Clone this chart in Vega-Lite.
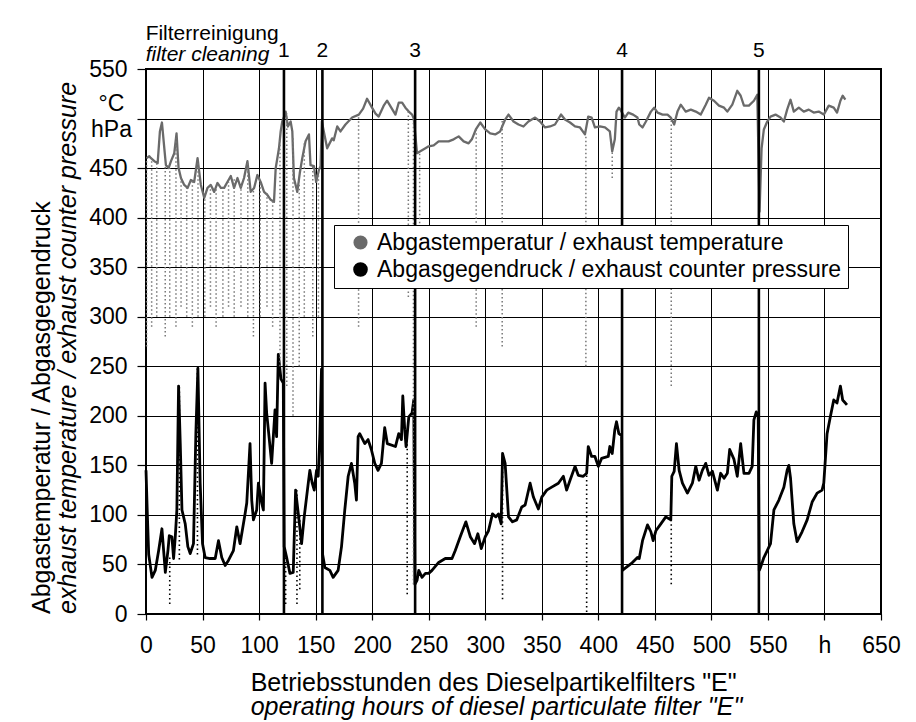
{
  "$schema": "https://vega.github.io/schema/vega-lite/v6.json",
  "background": "white",
  "padding": {"left": 28, "top": 23, "right": 10, "bottom": 0},
  "config": {
    "font": "Liberation Sans",
    "view": {"stroke": "black", "strokeWidth": 2},
    "axis": {"labelFont": "Liberation Sans", "labelColor": "black", "labelFontSize": 23, "gridColor": "black", "gridOpacity": 1, "gridWidth": 1, "tickColor": "black", "domainColor": "black", "labelFlush": false, "labelOverlap": false},
    "title": {"font": "Liberation Sans", "subtitleFont": "Liberation Sans", "color": "black", "subtitleColor": "black", "fontWeight": "normal", "subtitleFontWeight": "normal", "subtitleFontStyle": "italic"}
  },
  "datasets": {
    "series": [
      {"h": 0.5, "v": 460, "s": "T"}, {"h": 2.9, "v": 462, "s": "T"}, {"h": 4.4, "v": 460, "s": "T"}, {"h": 7.4, "v": 457, "s": "T"}, {"h": 10.3, "v": 455, "s": "T"}, {"h": 12.3, "v": 487, "s": "T"}, {"h": 14.1, "v": 496, "s": "T"}, {"h": 16.2, "v": 470, "s": "T"}, {"h": 17.6, "v": 453, "s": "T"}, {"h": 20.0, "v": 450, "s": "T"}, {"h": 22.1, "v": 457, "s": "T"}, {"h": 25.0, "v": 465, "s": "T"}, {"h": 27.0, "v": 485, "s": "T"}, {"h": 28.8, "v": 450, "s": "T"}, {"h": 30.9, "v": 440, "s": "T"}, {"h": 33.8, "v": 433, "s": "T"}, {"h": 36.8, "v": 430, "s": "T"}, {"h": 39.7, "v": 438, "s": "T"}, {"h": 42.6, "v": 436, "s": "T"}, {"h": 45.6, "v": 460, "s": "T"}, {"h": 48.5, "v": 433, "s": "T"}, {"h": 51.5, "v": 420, "s": "T"}, {"h": 54.4, "v": 430, "s": "T"}, {"h": 57.3, "v": 433, "s": "T"}, {"h": 60.3, "v": 426, "s": "T"}, {"h": 63.2, "v": 435, "s": "T"}, {"h": 66.2, "v": 430, "s": "T"}, {"h": 69.1, "v": 430, "s": "T"}, {"h": 72.0, "v": 436, "s": "T"}, {"h": 75.0, "v": 442, "s": "T"}, {"h": 77.9, "v": 430, "s": "T"}, {"h": 80.9, "v": 440, "s": "T"}, {"h": 83.8, "v": 430, "s": "T"}, {"h": 86.7, "v": 440, "s": "T"}, {"h": 89.7, "v": 457, "s": "T"}, {"h": 92.6, "v": 426, "s": "T"}, {"h": 95.6, "v": 430, "s": "T"}, {"h": 98.5, "v": 443, "s": "T"}, {"h": 101.4, "v": 436, "s": "T"}, {"h": 104.4, "v": 426, "s": "T"}, {"h": 107.3, "v": 423, "s": "T"}, {"h": 110.3, "v": 418, "s": "T"}, {"h": 113.2, "v": 416, "s": "T"}, {"h": 114.7, "v": 450, "s": "T"}, {"h": 117.6, "v": 470, "s": "T"}, {"h": 119.1, "v": 487, "s": "T"}, {"h": 120.5, "v": 497, "s": "T"}, {"h": 122.5, "v": 503, "s": "T"}, {"h": 123.5, "v": 507, "s": "T"}, {"h": 125.5, "v": 492, "s": "T"}, {"h": 127.9, "v": 497, "s": "T"}, {"h": 129.4, "v": 487, "s": "T"}, {"h": 130.8, "v": 440, "s": "T"}, {"h": 133.8, "v": 426, "s": "T"}, {"h": 136.0, "v": 445, "s": "T"}, {"h": 138.2, "v": 460, "s": "T"}, {"h": 141.1, "v": 477, "s": "T"}, {"h": 144.1, "v": 484, "s": "T"}, {"h": 145.5, "v": 453, "s": "T"}, {"h": 148.5, "v": 452, "s": "T"}, {"h": 150.5, "v": 436, "s": "T"}, {"h": 152.9, "v": 448, "s": "T"}, {"h": 154.4, "v": 452, "s": "T"}, {"h": 155.5, "v": 497, "s": "T"},
      {"h": 160.2, "v": 470, "s": "T"}, {"h": 164.6, "v": 480, "s": "T"}, {"h": 166.0, "v": 478, "s": "T"}, {"h": 169.1, "v": 492, "s": "T"}, {"h": 172.0, "v": 487, "s": "T"}, {"h": 176.4, "v": 494, "s": "T"}, {"h": 182.3, "v": 501, "s": "T"}, {"h": 188.2, "v": 504, "s": "T"}, {"h": 192.0, "v": 510, "s": "T"}, {"h": 195.5, "v": 520, "s": "T"}, {"h": 199.9, "v": 511, "s": "T"}, {"h": 203.0, "v": 505, "s": "T"}, {"h": 205.8, "v": 502, "s": "T"}, {"h": 210.2, "v": 513, "s": "T"}, {"h": 213.2, "v": 518, "s": "T"},
      {"h": 220.6, "v": 504, "s": "T"}, {"h": 223.5, "v": 516, "s": "T"}, {"h": 226.5, "v": 516, "s": "T"}, {"h": 229.4, "v": 511, "s": "T"}, {"h": 232.4, "v": 507, "s": "T"}, {"h": 235.3, "v": 504, "s": "T"}, {"h": 236.8, "v": 500, "s": "T"},
      {"h": 239.7, "v": 465, "s": "T"}, {"h": 242.6, "v": 467, "s": "T"}, {"h": 247.1, "v": 470, "s": "T"}, {"h": 250.0, "v": 472, "s": "T"}, {"h": 254.4, "v": 473, "s": "T"}, {"h": 258.8, "v": 477, "s": "T"}, {"h": 263.2, "v": 477, "s": "T"}, {"h": 267.6, "v": 477, "s": "T"}, {"h": 272.1, "v": 479, "s": "T"}, {"h": 276.5, "v": 482, "s": "T"}, {"h": 280.9, "v": 477, "s": "T"}, {"h": 285.3, "v": 475, "s": "T"}, {"h": 288.2, "v": 479, "s": "T"}, {"h": 291.7, "v": 489, "s": "T"}, {"h": 295.6, "v": 496, "s": "T"}, {"h": 300.0, "v": 489, "s": "T"}, {"h": 304.4, "v": 485, "s": "T"}, {"h": 308.8, "v": 484, "s": "T"}, {"h": 313.2, "v": 487, "s": "T"}, {"h": 317.6, "v": 499, "s": "T"}, {"h": 320.6, "v": 504, "s": "T"}, {"h": 325.0, "v": 497, "s": "T"}, {"h": 329.4, "v": 494, "s": "T"}, {"h": 333.8, "v": 492, "s": "T"}, {"h": 338.2, "v": 497, "s": "T"}, {"h": 344.1, "v": 501, "s": "T"}, {"h": 348.5, "v": 497, "s": "T"}, {"h": 352.9, "v": 491, "s": "T"}, {"h": 357.3, "v": 492, "s": "T"}, {"h": 361.7, "v": 494, "s": "T"}, {"h": 367.0, "v": 504, "s": "T"}, {"h": 370.5, "v": 499, "s": "T"}, {"h": 375.0, "v": 496, "s": "T"}, {"h": 379.4, "v": 492, "s": "T"}, {"h": 383.8, "v": 491, "s": "T"}, {"h": 388.2, "v": 484, "s": "T"}, {"h": 391.1, "v": 502, "s": "T"}, {"h": 394.1, "v": 501, "s": "T"}, {"h": 397.0, "v": 491, "s": "T"}, {"h": 401.4, "v": 492, "s": "T"}, {"h": 405.9, "v": 491, "s": "T"}, {"h": 410.2, "v": 487, "s": "T"}, {"h": 412.3, "v": 467, "s": "T"}, {"h": 414.6, "v": 479, "s": "T"}, {"h": 416.1, "v": 507, "s": "T"}, {"h": 418.2, "v": 511, "s": "T"}, {"h": 420.0, "v": 508, "s": "T"},
      {"h": 423.5, "v": 501, "s": "T"}, {"h": 426.5, "v": 506, "s": "T"}, {"h": 430.8, "v": 504, "s": "T"}, {"h": 434.6, "v": 501, "s": "T"}, {"h": 436.2, "v": 494, "s": "T"}, {"h": 439.1, "v": 491, "s": "T"}, {"h": 442.1, "v": 497, "s": "T"}, {"h": 446.5, "v": 507, "s": "T"}, {"h": 449.4, "v": 511, "s": "T"}, {"h": 452.4, "v": 506, "s": "T"}, {"h": 456.8, "v": 504, "s": "T"}, {"h": 461.2, "v": 504, "s": "T"}, {"h": 464.1, "v": 501, "s": "T"}, {"h": 467.1, "v": 494, "s": "T"}, {"h": 470.0, "v": 507, "s": "T"}, {"h": 472.9, "v": 514, "s": "T"}, {"h": 477.3, "v": 507, "s": "T"}, {"h": 481.8, "v": 509, "s": "T"}, {"h": 486.2, "v": 507, "s": "T"}, {"h": 490.6, "v": 504, "s": "T"}, {"h": 495.0, "v": 514, "s": "T"}, {"h": 497.9, "v": 521, "s": "T"}, {"h": 502.3, "v": 518, "s": "T"}, {"h": 506.7, "v": 513, "s": "T"}, {"h": 511.2, "v": 511, "s": "T"}, {"h": 514.1, "v": 507, "s": "T"}, {"h": 518.5, "v": 514, "s": "T"}, {"h": 522.9, "v": 528, "s": "T"}, {"h": 525.9, "v": 523, "s": "T"}, {"h": 528.8, "v": 513, "s": "T"}, {"h": 533.2, "v": 513, "s": "T"}, {"h": 537.6, "v": 518, "s": "T"}, {"h": 540.6, "v": 524, "s": "T"},
      {"h": 542.6, "v": 406, "s": "T"}, {"h": 544.4, "v": 470, "s": "T"}, {"h": 546.4, "v": 489, "s": "T"}, {"h": 549.4, "v": 497, "s": "T"}, {"h": 552.3, "v": 502, "s": "T"}, {"h": 556.7, "v": 504, "s": "T"}, {"h": 561.1, "v": 501, "s": "T"}, {"h": 564.1, "v": 497, "s": "T"}, {"h": 567.0, "v": 509, "s": "T"}, {"h": 570.0, "v": 519, "s": "T"}, {"h": 572.9, "v": 507, "s": "T"}, {"h": 577.3, "v": 511, "s": "T"}, {"h": 581.7, "v": 507, "s": "T"}, {"h": 586.1, "v": 509, "s": "T"}, {"h": 590.5, "v": 506, "s": "T"}, {"h": 594.9, "v": 507, "s": "T"}, {"h": 599.4, "v": 504, "s": "T"}, {"h": 603.8, "v": 513, "s": "T"}, {"h": 608.2, "v": 511, "s": "T"}, {"h": 611.1, "v": 506, "s": "T"}, {"h": 614.1, "v": 518, "s": "T"}, {"h": 616.1, "v": 523, "s": "T"}, {"h": 618.5, "v": 519, "s": "T"},
      {"h": 0, "v": 145, "s": "P"}, {"h": 1.2, "v": 100, "s": "P"}, {"h": 2.4, "v": 60, "s": "P"}, {"h": 5.3, "v": 37, "s": "P"}, {"h": 8.2, "v": 44, "s": "P"}, {"h": 11.2, "v": 64, "s": "P"}, {"h": 14.1, "v": 86, "s": "P"}, {"h": 15.6, "v": 64, "s": "P"}, {"h": 17.1, "v": 42, "s": "P"}, {"h": 19.4, "v": 64, "s": "P"}, {"h": 20.6, "v": 79, "s": "P"}, {"h": 22.9, "v": 78, "s": "P"}, {"h": 24.4, "v": 56, "s": "P"}, {"h": 25.9, "v": 78, "s": "P"}, {"h": 27.3, "v": 105, "s": "P"}, {"h": 28.8, "v": 230, "s": "P"}, {"h": 30.3, "v": 172, "s": "P"}, {"h": 31.8, "v": 105, "s": "P"}, {"h": 34.7, "v": 91, "s": "P"}, {"h": 37.0, "v": 68, "s": "P"}, {"h": 39.1, "v": 61, "s": "P"}, {"h": 42.0, "v": 71, "s": "P"}, {"h": 44.1, "v": 182, "s": "P"}, {"h": 45.9, "v": 248, "s": "P"}, {"h": 47.9, "v": 132, "s": "P"}, {"h": 50.0, "v": 71, "s": "P"}, {"h": 52.3, "v": 57, "s": "P"}, {"h": 56.7, "v": 56, "s": "P"}, {"h": 61.2, "v": 56, "s": "P"}, {"h": 64.1, "v": 74, "s": "P"}, {"h": 67.0, "v": 57, "s": "P"}, {"h": 70.0, "v": 49, "s": "P"}, {"h": 72.9, "v": 54, "s": "P"}, {"h": 77.3, "v": 64, "s": "P"}, {"h": 80.3, "v": 88, "s": "P"}, {"h": 83.2, "v": 71, "s": "P"}, {"h": 87.6, "v": 101, "s": "P"}, {"h": 89.1, "v": 112, "s": "P"}, {"h": 92.0, "v": 172, "s": "P"}, {"h": 93.5, "v": 115, "s": "P"}, {"h": 95.0, "v": 95, "s": "P"}, {"h": 97.9, "v": 105, "s": "P"}, {"h": 99.4, "v": 132, "s": "P"}, {"h": 102.3, "v": 112, "s": "P"}, {"h": 103.8, "v": 105, "s": "P"}, {"h": 105.3, "v": 233, "s": "P"}, {"h": 106.7, "v": 203, "s": "P"}, {"h": 108.8, "v": 179, "s": "P"}, {"h": 111.1, "v": 152, "s": "P"}, {"h": 114.1, "v": 206, "s": "P"}, {"h": 115.5, "v": 179, "s": "P"}, {"h": 117.0, "v": 262, "s": "P"}, {"h": 119.4, "v": 237, "s": "P"}, {"h": 121.4, "v": 233, "s": "P"}, {"h": 122.2, "v": 68, "s": "P"}, {"h": 124.4, "v": 57, "s": "P"}, {"h": 127.3, "v": 41, "s": "P"}, {"h": 130.2, "v": 42, "s": "P"}, {"h": 132.3, "v": 125, "s": "P"}, {"h": 134.7, "v": 101, "s": "P"}, {"h": 137.6, "v": 71, "s": "P"}, {"h": 139.9, "v": 98, "s": "P"}, {"h": 143.5, "v": 132, "s": "P"}, {"h": 144.9, "v": 145, "s": "P"}, {"h": 147.0, "v": 132, "s": "P"}, {"h": 148.8, "v": 125, "s": "P"}, {"h": 150.8, "v": 145, "s": "P"}, {"h": 152.3, "v": 139, "s": "P"}, {"h": 153.8, "v": 182, "s": "P"}, {"h": 155.2, "v": 247, "s": "P"}, {"h": 156.2, "v": 60, "s": "P"}, {"h": 158.2, "v": 47, "s": "P"}, {"h": 162.6, "v": 44, "s": "P"}, {"h": 165.5, "v": 37, "s": "P"}, {"h": 169.9, "v": 44, "s": "P"}, {"h": 172.9, "v": 68, "s": "P"}, {"h": 175.8, "v": 105, "s": "P"}, {"h": 178.8, "v": 139, "s": "P"}, {"h": 181.7, "v": 152, "s": "P"}, {"h": 184.6, "v": 132, "s": "P"}, {"h": 186.1, "v": 115, "s": "P"}, {"h": 187.6, "v": 179, "s": "P"}, {"h": 189.0, "v": 182, "s": "P"}, {"h": 193.5, "v": 172, "s": "P"}, {"h": 196.4, "v": 176, "s": "P"}, {"h": 199.3, "v": 166, "s": "P"}, {"h": 202.3, "v": 152, "s": "P"}, {"h": 205.2, "v": 145, "s": "P"}, {"h": 208.2, "v": 152, "s": "P"}, {"h": 211.1, "v": 188, "s": "P"}, {"h": 213.4, "v": 172, "s": "P"}, {"h": 220.6, "v": 169, "s": "P"}, {"h": 223.5, "v": 182, "s": "P"}, {"h": 225.9, "v": 176, "s": "P"}, {"h": 227.1, "v": 220, "s": "P"}, {"h": 228.8, "v": 186, "s": "P"}, {"h": 230.0, "v": 169, "s": "P"}, {"h": 232.4, "v": 199, "s": "P"}, {"h": 235.3, "v": 203, "s": "P"}, {"h": 236.8, "v": 216, "s": "P"}, {"h": 237.8, "v": 30, "s": "P"}, {"h": 239.7, "v": 34, "s": "P"}, {"h": 241.2, "v": 44, "s": "P"}, {"h": 244.1, "v": 37, "s": "P"}, {"h": 247.1, "v": 41, "s": "P"}, {"h": 250.0, "v": 41, "s": "P"}, {"h": 252.9, "v": 44, "s": "P"}, {"h": 258.8, "v": 52, "s": "P"}, {"h": 264.7, "v": 56, "s": "P"}, {"h": 270.6, "v": 56, "s": "P"}, {"h": 273.5, "v": 64, "s": "P"}, {"h": 277.9, "v": 78, "s": "P"}, {"h": 282.9, "v": 93, "s": "P"}, {"h": 286.8, "v": 78, "s": "P"}, {"h": 290.6, "v": 71, "s": "P"}, {"h": 293.5, "v": 81, "s": "P"}, {"h": 296.5, "v": 66, "s": "P"}, {"h": 300.0, "v": 78, "s": "P"}, {"h": 302.9, "v": 84, "s": "P"}, {"h": 306.4, "v": 101, "s": "P"}, {"h": 309.4, "v": 98, "s": "P"}, {"h": 311.7, "v": 101, "s": "P"}, {"h": 314.1, "v": 91, "s": "P"}, {"h": 315.3, "v": 162, "s": "P"}, {"h": 317.6, "v": 152, "s": "P"}, {"h": 320.6, "v": 98, "s": "P"}, {"h": 324.1, "v": 93, "s": "P"}, {"h": 327.9, "v": 95, "s": "P"}, {"h": 332.3, "v": 108, "s": "P"}, {"h": 335.3, "v": 110, "s": "P"}, {"h": 339.7, "v": 132, "s": "P"}, {"h": 342.6, "v": 118, "s": "P"}, {"h": 347.0, "v": 106, "s": "P"}, {"h": 350.0, "v": 118, "s": "P"}, {"h": 354.4, "v": 125, "s": "P"}, {"h": 358.8, "v": 128, "s": "P"}, {"h": 364.7, "v": 132, "s": "P"}, {"h": 369.1, "v": 139, "s": "P"}, {"h": 372.0, "v": 125, "s": "P"}, {"h": 375.0, "v": 135, "s": "P"}, {"h": 379.4, "v": 149, "s": "P"}, {"h": 382.3, "v": 140, "s": "P"}, {"h": 386.7, "v": 139, "s": "P"}, {"h": 389.7, "v": 142, "s": "P"}, {"h": 391.1, "v": 169, "s": "P"}, {"h": 394.1, "v": 159, "s": "P"}, {"h": 397.0, "v": 159, "s": "P"}, {"h": 400.0, "v": 149, "s": "P"}, {"h": 402.9, "v": 157, "s": "P"}, {"h": 408.8, "v": 159, "s": "P"}, {"h": 410.2, "v": 169, "s": "P"}, {"h": 412.3, "v": 162, "s": "P"}, {"h": 414.6, "v": 186, "s": "P"}, {"h": 416.1, "v": 194, "s": "P"}, {"h": 418.2, "v": 182, "s": "P"}, {"h": 420.6, "v": 180, "s": "P"}, {"h": 421.3, "v": 44, "s": "P"}, {"h": 423.5, "v": 46, "s": "P"}, {"h": 429.3, "v": 51, "s": "P"}, {"h": 434.6, "v": 57, "s": "P"}, {"h": 436.2, "v": 56, "s": "P"}, {"h": 439.1, "v": 74, "s": "P"}, {"h": 443.5, "v": 90, "s": "P"}, {"h": 446.5, "v": 83, "s": "P"}, {"h": 448.5, "v": 74, "s": "P"}, {"h": 450.9, "v": 84, "s": "P"}, {"h": 455.3, "v": 91, "s": "P"}, {"h": 459.7, "v": 98, "s": "P"}, {"h": 464.1, "v": 95, "s": "P"}, {"h": 465.0, "v": 139, "s": "P"}, {"h": 467.1, "v": 144, "s": "P"}, {"h": 469.1, "v": 172, "s": "P"}, {"h": 471.5, "v": 145, "s": "P"}, {"h": 474.4, "v": 132, "s": "P"}, {"h": 478.8, "v": 122, "s": "P"}, {"h": 483.2, "v": 132, "s": "P"}, {"h": 486.2, "v": 149, "s": "P"}, {"h": 489.1, "v": 135, "s": "P"}, {"h": 492.0, "v": 145, "s": "P"}, {"h": 495.0, "v": 152, "s": "P"}, {"h": 497.9, "v": 140, "s": "P"}, {"h": 500.9, "v": 144, "s": "P"}, {"h": 505.3, "v": 125, "s": "P"}, {"h": 508.2, "v": 142, "s": "P"}, {"h": 511.2, "v": 137, "s": "P"}, {"h": 514.1, "v": 142, "s": "P"}, {"h": 516.2, "v": 166, "s": "P"}, {"h": 520.0, "v": 156, "s": "P"}, {"h": 522.9, "v": 139, "s": "P"}, {"h": 525.9, "v": 172, "s": "P"}, {"h": 528.8, "v": 142, "s": "P"}, {"h": 533.2, "v": 142, "s": "P"}, {"h": 536.1, "v": 149, "s": "P"}, {"h": 537.6, "v": 196, "s": "P"}, {"h": 539.7, "v": 204, "s": "P"}, {"h": 541.4, "v": 199, "s": "P"}, {"h": 542.3, "v": 44, "s": "P"}, {"h": 543.5, "v": 47, "s": "P"}, {"h": 546.4, "v": 57, "s": "P"}, {"h": 549.4, "v": 64, "s": "P"}, {"h": 552.3, "v": 71, "s": "P"}, {"h": 555.3, "v": 105, "s": "P"}, {"h": 559.7, "v": 115, "s": "P"}, {"h": 564.1, "v": 128, "s": "P"}, {"h": 567.0, "v": 145, "s": "P"}, {"h": 568.5, "v": 150, "s": "P"}, {"h": 570.0, "v": 137, "s": "P"}, {"h": 572.9, "v": 91, "s": "P"}, {"h": 575.8, "v": 73, "s": "P"}, {"h": 580.2, "v": 83, "s": "P"}, {"h": 584.7, "v": 95, "s": "P"}, {"h": 589.1, "v": 113, "s": "P"}, {"h": 593.5, "v": 122, "s": "P"}, {"h": 597.9, "v": 125, "s": "P"}, {"h": 599.4, "v": 132, "s": "P"}, {"h": 602.3, "v": 182, "s": "P"}, {"h": 605.2, "v": 199, "s": "P"}, {"h": 608.2, "v": 216, "s": "P"}, {"h": 611.1, "v": 213, "s": "P"}, {"h": 614.1, "v": 230, "s": "P"}, {"h": 616.1, "v": 216, "s": "P"}, {"h": 619.9, "v": 211, "s": "P"}
    ],
    "drops": [
      {"h": 0.5, "lo": 270, "hi": 460, "s": "T"}, {"h": 5, "lo": 290, "hi": 460, "s": "T"}, {"h": 9.5, "lo": 300, "hi": 455, "s": "T"}, {"h": 17, "lo": 280, "hi": 453, "s": "T"}, {"h": 21, "lo": 300, "hi": 450, "s": "T"}, {"h": 26.5, "lo": 290, "hi": 480, "s": "T"}, {"h": 31, "lo": 310, "hi": 440, "s": "T"}, {"h": 36, "lo": 300, "hi": 430, "s": "T"}, {"h": 41, "lo": 290, "hi": 438, "s": "T"}, {"h": 46, "lo": 300, "hi": 455, "s": "T"}, {"h": 52, "lo": 300, "hi": 420, "s": "T"}, {"h": 57, "lo": 310, "hi": 433, "s": "T"}, {"h": 62, "lo": 290, "hi": 430, "s": "T"}, {"h": 68, "lo": 300, "hi": 430, "s": "T"}, {"h": 73, "lo": 310, "hi": 436, "s": "T"}, {"h": 78, "lo": 300, "hi": 440, "s": "T"}, {"h": 84, "lo": 310, "hi": 435, "s": "T"}, {"h": 90, "lo": 300, "hi": 455, "s": "T"}, {"h": 95, "lo": 280, "hi": 428, "s": "T"}, {"h": 101, "lo": 300, "hi": 436, "s": "T"}, {"h": 107, "lo": 310, "hi": 425, "s": "T"}, {"h": 112, "lo": 290, "hi": 418, "s": "T"}, {"h": 118.5, "lo": 250, "hi": 480, "s": "T"}, {"h": 124.5, "lo": 230, "hi": 505, "s": "T"}, {"h": 130, "lo": 200, "hi": 480, "s": "T"}, {"h": 135.5, "lo": 250, "hi": 440, "s": "T"}, {"h": 140, "lo": 300, "hi": 475, "s": "T"}, {"h": 147.5, "lo": 280, "hi": 452, "s": "T"}, {"h": 152.5, "lo": 300, "hi": 450, "s": "T"}, {"h": 188, "lo": 290, "hi": 504, "s": "T"}, {"h": 232, "lo": 320, "hi": 507, "s": "T"}, {"h": 236.5, "lo": 30, "hi": 500, "s": "T"}, {"h": 242, "lo": 350, "hi": 467, "s": "T"}, {"h": 292, "lo": 290, "hi": 489, "s": "T"}, {"h": 315, "lo": 270, "hi": 499, "s": "T"}, {"h": 389, "lo": 250, "hi": 484, "s": "T"}, {"h": 412.3, "lo": 440, "hi": 467, "s": "T"}, {"h": 420.8, "lo": 400, "hi": 508, "s": "T"}, {"h": 464.5, "lo": 230, "hi": 501, "s": "T"}, {"h": 542, "lo": 40, "hi": 524, "s": "T"},
      {"h": 21, "lo": 10, "hi": 60, "s": "P"}, {"h": 29.5, "lo": 55, "hi": 230, "s": "P"}, {"h": 45.5, "lo": 60, "hi": 248, "s": "P"}, {"h": 123.5, "lo": 10, "hi": 60, "s": "P"}, {"h": 133.5, "lo": 10, "hi": 125, "s": "P"}, {"h": 136, "lo": 25, "hi": 100, "s": "P"}, {"h": 231, "lo": 20, "hi": 186, "s": "P"}, {"h": 315.3, "lo": 15, "hi": 160, "s": "P"}, {"h": 389.7, "lo": 2, "hi": 142, "s": "P"}, {"h": 464.5, "lo": 30, "hi": 95, "s": "P"}
    ],
    "cleanings": [
      {"h": 122, "n": "1"}, {"h": 156, "n": "2"}, {"h": 238, "n": "3"}, {"h": 421, "n": "4"}, {"h": 542, "n": "5"}
    ]
  },
  "title": {"text": "Filterreinigung", "subtitle": "filter cleaning", "orient": "top", "anchor": "start", "dx": 117, "fontSize": 21, "subtitleFontSize": 21, "subtitlePadding": 0, "offset": -26},
  "vconcat": [
    {
      "title": {"text": "Betriebsstunden des Dieselpartikelfilters \"E\"", "subtitle": "operating hours of diesel particulate filter \"E\"", "orient": "bottom", "anchor": "start", "dx": 222, "fontSize": 25, "subtitleFontSize": 25, "subtitlePadding": -1, "offset": 13},
      "vconcat": [
        {
          "title": {"text": "Abgastemperatur / Abgasgegendruck", "subtitle": "exhaust temperature / exhaust counter pressure", "orient": "left", "anchor": "start", "frame": "group", "fontSize": 25, "subtitleFontSize": 25, "subtitlePadding": 1, "offset": 8},
          "width": 735,
          "height": 545,
          "layer": [
            {
              "data": {"name": "series"},
              "mark": {"type": "line", "strokeJoin": "round"},
              "encoding": {
                "x": {"field": "h", "type": "quantitative", "scale": {"domain": [0, 650], "nice": false},
                  "axis": {"orient": "bottom", "title": null, "values": [0, 50, 100, 150, 200, 250, 300, 350, 400, 450, 500, 550, 600, 650], "labelExpr": "datum.value == 600 ? 'h' : datum.label", "grid": true, "tickSize": 6, "tickWidth": 1.2, "labelPadding": 14, "domain": false}},
                "y": {"field": "v", "type": "quantitative", "scale": {"domain": [0, 550], "nice": false},
                  "axis": {"orient": "left", "title": null, "values": [0, 50, 100, 150, 200, 250, 300, 350, 400, 450, 500, 550], "labelExpr": "datum.value == 500 ? ['°C', 'hPa'] : datum.label", "labelLineHeight": 26,
                    "labelOffset": {"condition": {"test": "datum.value == 500", "value": -15}, "value": 0},
                    "labelAlign": {"condition": {"test": "datum.value == 500", "value": "center"}, "value": "right"},
                    "labelPadding": {"condition": {"test": "datum.value == 500", "value": 26}, "value": 10},
                    "grid": true, "tickSize": 9, "tickWidth": 1.2, "domain": false}},
                "color": {"field": "s", "type": "nominal", "scale": {"domain": ["T", "P"], "range": ["#6a6a6a", "#000000"]},
                  "legend": {"orient": "none", "legendX": 188, "legendY": 156, "title": null, "labelFontSize": 23, "labelFont": "Liberation Sans", "labelColor": "black", "labelExpr": "datum.label == 'T' ? 'Abgastemperatur / exhaust temperature' : 'Abgasgegendruck / exhaust counter pressure'", "symbolType": "circle", "symbolSize": 140, "symbolOffset": 9, "labelOffset": 5, "padding": 6, "rowPadding": 2, "strokeColor": "black", "fillColor": "white", "labelLimit": 600,
                    "encode": {"symbols": {"update": {"fill": {"scale": "color", "field": "value"}, "strokeWidth": {"value": 0}}}}}},
                "strokeWidth": {"field": "s", "type": "nominal", "scale": {"domain": ["T", "P"], "range": [2.3, 2.8]}, "legend": null}
              }
            },
            {
              "data": {"name": "drops"},
              "transform": [{"filter": "datum.s == 'T'"}],
              "mark": {"type": "rule", "color": "#777777", "strokeWidth": 1.5, "strokeDash": [1.5, 2.5]},
              "encoding": {
                "x": {"field": "h", "type": "quantitative", "axis": {"title": null}},
                "y": {"field": "lo", "type": "quantitative", "axis": {"title": null}},
                "y2": {"field": "hi"}
              }
            },
            {
              "data": {"name": "drops"},
              "transform": [{"filter": "datum.s == 'P'"}],
              "mark": {"type": "rule", "color": "black", "strokeWidth": 1.6, "strokeDash": [1.5, 3]},
              "encoding": {
                "x": {"field": "h", "type": "quantitative", "axis": {"title": null}},
                "y": {"field": "lo", "type": "quantitative", "axis": {"title": null}},
                "y2": {"field": "hi"}
              }
            },
            {
              "data": {"name": "cleanings"},
              "mark": {"type": "rule", "color": "black", "strokeWidth": 2.6},
              "encoding": {
                "x": {"field": "h", "type": "quantitative", "axis": {"title": null}}
              }
            },
            {
              "data": {"name": "cleanings"},
              "mark": {"type": "text", "baseline": "bottom", "align": "center", "dy": -8, "fontSize": 21, "font": "Liberation Sans", "color": "black", "clip": false},
              "encoding": {
                "x": {"field": "h", "type": "quantitative", "axis": {"title": null}},
                "y": {"datum": 550, "type": "quantitative", "axis": {"title": null}},
                "text": {"field": "n", "type": "nominal"}
              }
            }
          ]
        }
      ]
    }
  ]
}
